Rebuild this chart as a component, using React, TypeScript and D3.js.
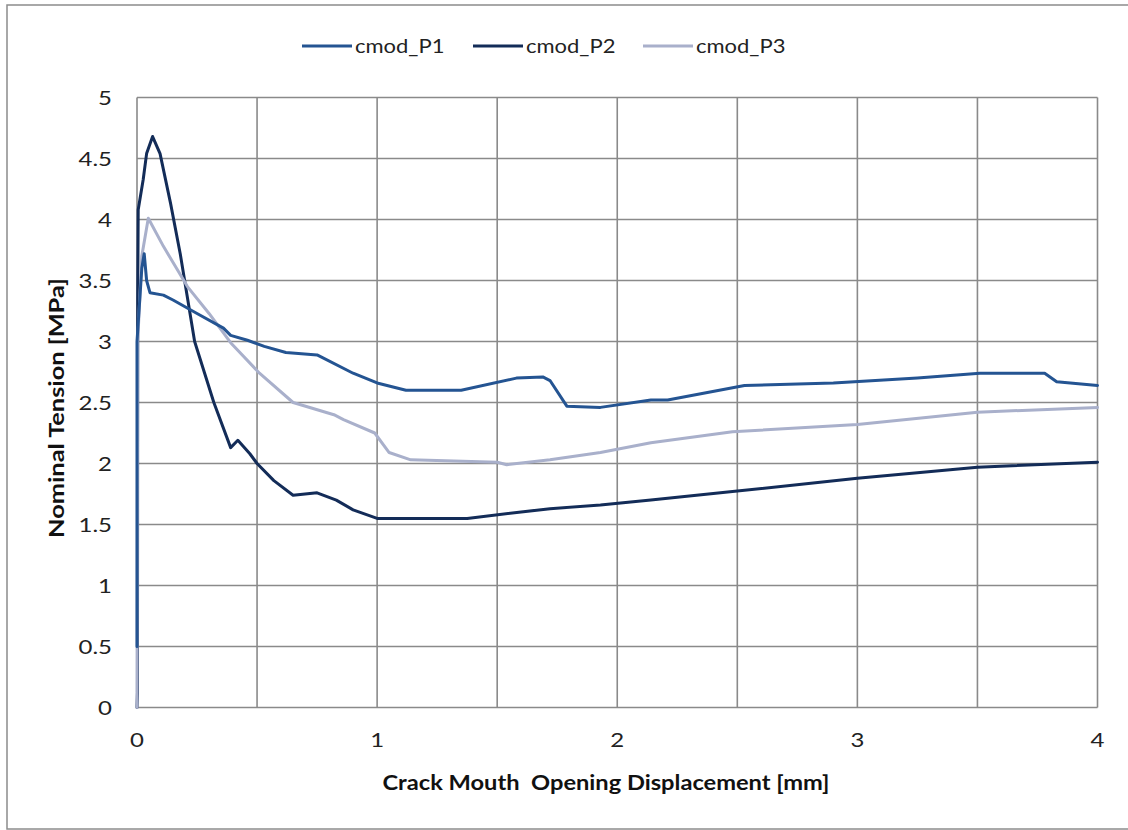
import React from "react";
import * as d3 from "d3";

// CMOD curves: [crack mouth opening displacement (mm), nominal tension (MPa)]
const cmodP1: [number, number][] = [
  [0, 0.5], [0, 3.0], [0.02, 3.6], [0.03, 3.72], [0.04, 3.5], [0.054, 3.4], [0.11, 3.38],
  [0.15, 3.34], [0.25, 3.23], [0.36, 3.11], [0.39, 3.05], [0.46, 3.01], [0.53, 2.96],
  [0.62, 2.91], [0.75, 2.89], [0.9, 2.74], [1.0, 2.66], [1.12, 2.6], [1.35, 2.6],
  [1.58, 2.7], [1.69, 2.71], [1.72, 2.68], [1.79, 2.47], [1.93, 2.46], [2.14, 2.52],
  [2.21, 2.52], [2.53, 2.64], [2.9, 2.66], [3.25, 2.7], [3.51, 2.74], [3.78, 2.74],
  [3.83, 2.67], [4.0, 2.64],
];

const cmodP2: [number, number][] = [
  [0, 0], [0.002, 0.12], [0.003, 3.35], [0.005, 4.08], [0.026, 4.33], [0.04, 4.54],
  [0.065, 4.68], [0.096, 4.54], [0.14, 4.13], [0.18, 3.72], [0.2, 3.48], [0.24, 3.0],
  [0.32, 2.5], [0.39, 2.13], [0.42, 2.19], [0.47, 2.08], [0.5, 2.0], [0.57, 1.86],
  [0.65, 1.74], [0.75, 1.76], [0.83, 1.7], [0.9, 1.62], [1.0, 1.55], [1.375, 1.55],
  [1.72, 1.63], [1.93, 1.66], [2.14, 1.7], [2.48, 1.77], [3.0, 1.88], [3.5, 1.97],
  [4.0, 2.01],
];

const cmodP3: [number, number][] = [
  [0, 0], [0.003, 3.0], [0.02, 3.7], [0.047, 4.01], [0.11, 3.78], [0.21, 3.45],
  [0.3, 3.23], [0.39, 2.99], [0.51, 2.74], [0.65, 2.5], [0.82, 2.4], [0.86, 2.36],
  [0.99, 2.25], [1.05, 2.09], [1.14, 2.03], [1.5, 2.01], [1.54, 1.99], [1.72, 2.03],
  [1.93, 2.09], [2.14, 2.17], [2.48, 2.26], [3.0, 2.32], [3.5, 2.42], [4.0, 2.46],
];

const seriesNames = ["cmod_P1", "cmod_P2", "cmod_P3"];
const seriesColors = ["#245492", "#132c58", "#a9b0cb"];
const seriesData = [cmodP1, cmodP2, cmodP3];
// draw order: P2 underneath, then P3, then P1
const drawOrder = [1, 2, 0];

const xTicks = [0, 1, 2, 3, 4];
const xGrid = [0, 0.5, 1, 1.5, 2, 2.5, 3, 3.5, 4];
const yTicks = [0, 0.5, 1, 1.5, 2, 2.5, 3, 3.5, 4, 4.5, 5];

const xTitle = "Crack Mouth  Opening Displacement [mm]";
const yTitle = "Nominal Tension [MPa]";

const W = 1128;
const H = 830;
const left = 137;
const right = 1097.5;
const top = 97.5;
const bottom = 707.5;

const font = "Lato, 'Open Sans', sans-serif";
// labels are drawn slightly widened horizontally
const stretch = 1.2;

export default function App() {
  const x = d3.scaleLinear().domain([0, 4]).range([left, right]);
  const y = d3.scaleLinear().domain([0, 5]).range([bottom, top]);
  const line = d3
    .line<[number, number]>()
    .x((d) => x(d[0]))
    .y((d) => y(d[1]));

  const legendX = [302, 473, 643];

  return (
    <svg
      width={W}
      height={H}
      style={{ position: "absolute", left: 0, top: 0, background: "#fff" }}
    >
      <rect x={0} y={0} width={W} height={H} fill="#fff" />
      <rect x={7} y={5} width={1122} height={824} fill="none" stroke="#8c8c8c" strokeWidth={1.5} />

      {/* grid */}
      {xGrid.map((v) => (
        <line key={"gx" + v} x1={x(v)} x2={x(v)} y1={top} y2={bottom} stroke="#8a8a8a" strokeWidth={1.6} />
      ))}
      {yTicks.map((v) => (
        <line key={"gy" + v} x1={left} x2={right} y1={y(v)} y2={y(v)} stroke="#8a8a8a" strokeWidth={1.6} />
      ))}

      {/* y tick labels */}
      {yTicks.map((v) => (
        <g key={"ty" + v} transform={`translate(112,${y(v)}) scale(${stretch},1)`}>
          <text dy="0.35em" textAnchor="end" fontFamily={font} fontSize={20} fill="#222">
            {v}
          </text>
        </g>
      ))}
      {/* x tick labels */}
      {xTicks.map((v) => (
        <g key={"tx" + v} transform={`translate(${x(v)},747) scale(${stretch},1)`}>
          <text textAnchor="middle" fontFamily={font} fontSize={20} fill="#222">
            {v}
          </text>
        </g>
      ))}

      {/* series */}
      {drawOrder.map((i) => (
        <path
          key={seriesNames[i]}
          d={line(seriesData[i]) || ""}
          fill="none"
          stroke={seriesColors[i]}
          strokeWidth={3}
          strokeLinejoin="round"
          strokeLinecap="round"
        />
      ))}

      {/* axis titles */}
      <text
        x={606}
        y={790}
        textAnchor="middle"
        fontFamily={font}
        fontWeight="bold"
        fontSize={21}
        fill="#111"
        textLength={447}
        lengthAdjust="spacingAndGlyphs"
        style={{ whiteSpace: "pre" }}
      >
        {xTitle}
      </text>
      <text
        transform="translate(64,408) rotate(-90)"
        textAnchor="middle"
        fontFamily={font}
        fontWeight="bold"
        fontSize={21}
        fill="#111"
        textLength={260}
        lengthAdjust="spacingAndGlyphs"
      >
        {yTitle}
      </text>

      {/* legend */}
      {seriesNames.map((name, i) => (
        <g key={"lg" + name}>
          <line
            x1={legendX[i]}
            x2={legendX[i] + 50}
            y1={46}
            y2={46}
            stroke={seriesColors[i]}
            strokeWidth={3}
          />
          <g transform={`translate(${legendX[i] + 53},46) scale(1.1,1)`}>
            <text dy="0.35em" fontFamily={font} fontSize={20} fill="#222">
              {name}
            </text>
          </g>
        </g>
      ))}
    </svg>
  );
}
